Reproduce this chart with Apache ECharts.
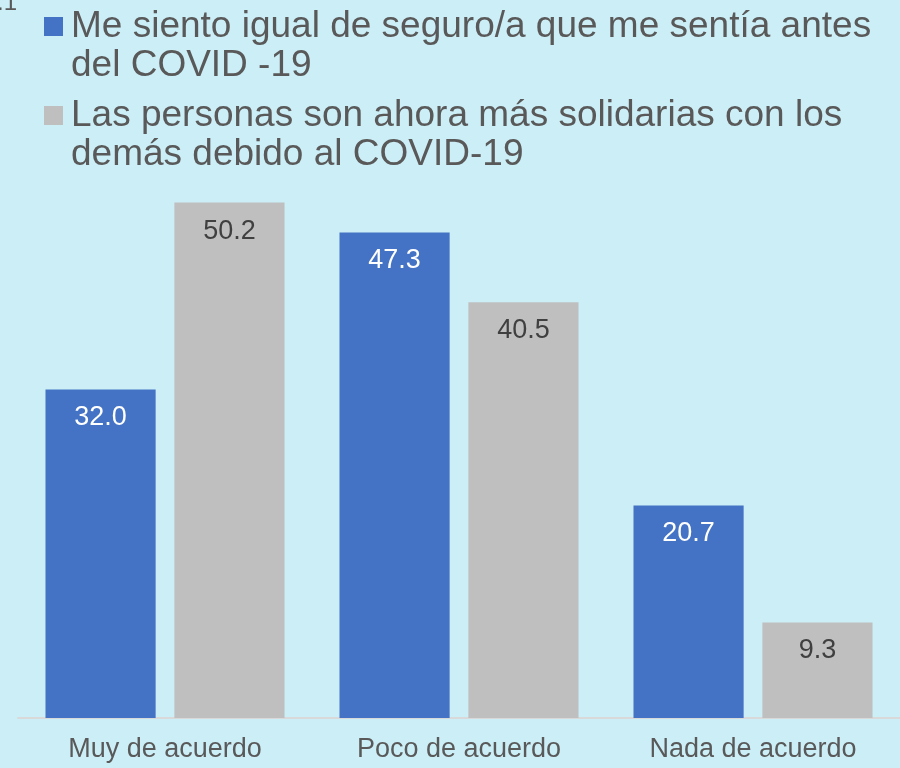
<!DOCTYPE html>
<html>
<head>
<meta charset="utf-8">
<script src="https://cdn.jsdelivr.net/npm/echarts@6/dist/echarts.min.js"></script>
<style>
  html, body { margin: 0; padding: 0; background: #CCEEF7; }
  #chart { width: 900px; height: 768px; }
</style>
</head>
<body>
<div id="chart"></div>
<script>
// datos
const categorias = ["Muy de acuerdo", "Poco de acuerdo", "Nada de acuerdo"];
const serieSeguro = [32.0, 47.3, 20.7];
const serieSolidarias = [50.2, 40.5, 9.3];
const nombreSeguro = "Me siento igual de seguro/a que me sentía antes del COVID -19";
const nombreSolidarias = "Las personas son ahora más solidarias con los demás debido al COVID-19";

// cortes de línea de la leyenda, como en el original
const cortesLeyenda = {
  [nombreSeguro]: "antes ",
  [nombreSolidarias]: "con los "
};

function envolver(name) {
  const corte = cortesLeyenda[name];
  const i = name.indexOf(corte) + corte.length;
  // línea vacía arriba para que el cuadro quede junto a la primera línea
  return "\n" + name.slice(0, i).trim() + "\n" + name.slice(i);
}

const chart = echarts.init(document.getElementById("chart"));

const option = {
  backgroundColor: "#CCEEF7",
  textStyle: { fontFamily: "Liberation Sans, Arial, sans-serif" },
  graphic: [
    {
      // resto del número de página recortado arriba a la izquierda
      type: "text",
      x: -3,
      y: 15,
      style: {
        text: ".1",
        fontSize: 24,
        fill: "#595959",
        fontFamily: "Liberation Sans",
        verticalAlign: "bottom"
      }
    }
  ],
  legend: {
    orient: "vertical",
    left: 39,
    top: -37,
    itemWidth: 19,
    itemHeight: 19,
    itemGap: -28,
    icon: "rect",
    formatter: envolver,
    textStyle: {
      fontSize: 37,
      color: "#595959",
      lineHeight: 39,
      padding: [0, 0, 0, 3]
    }
  },
  grid: {
    left: 18,
    right: 0,
    top: 102,
    bottom: 50
  },
  xAxis: {
    type: "category",
    data: categorias,
    axisTick: { show: false },
    axisLine: { lineStyle: { color: "#D9D9D9", width: 2 } },
    axisLabel: { fontSize: 27, color: "#595959", margin: 18 }
  },
  yAxis: {
    type: "value",
    min: 0,
    max: 60,
    show: false,
    splitLine: { show: false }
  },
  series: [
    {
      name: nombreSeguro,
      type: "bar",
      data: serieSeguro,
      barGap: "17%",
      barCategoryGap: "18.7%",
      itemStyle: { color: "#4472C4" },
      label: {
        show: true,
        position: "insideTop",
        distance: 15,
        fontSize: 27,
        color: "#FFFFFF",
        formatter: (p) => p.value.toFixed(1)
      }
    },
    {
      name: nombreSolidarias,
      type: "bar",
      data: serieSolidarias,
      itemStyle: { color: "#BFBFBF" },
      label: {
        show: true,
        position: "insideTop",
        distance: 15,
        fontSize: 27,
        color: "#404040",
        formatter: (p) => p.value.toFixed(1)
      }
    }
  ]
};

chart.setOption(option);
</script>
</body>
</html>
